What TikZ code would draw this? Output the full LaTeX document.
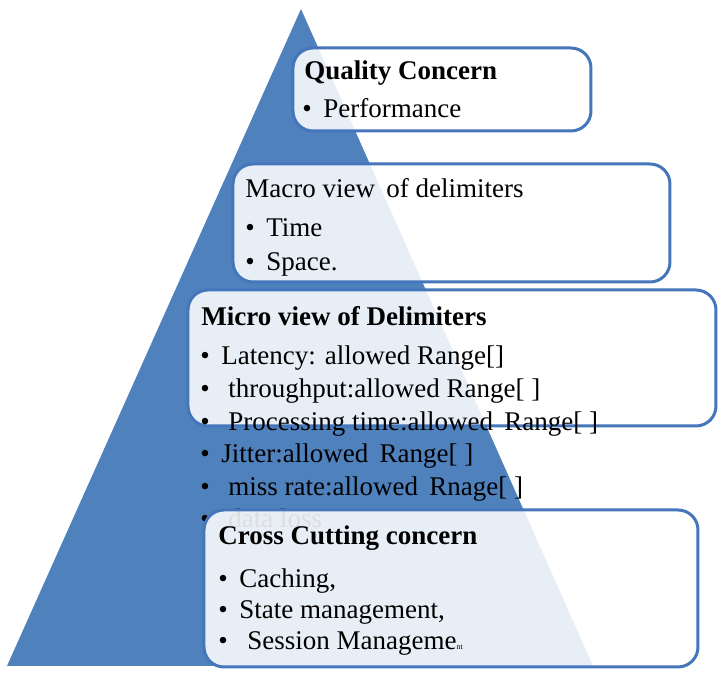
\documentclass[tikz,border=0pt]{standalone}
\usepackage{fontspec}
\setmainfont{Liberation Serif}
\usepackage{tikz}
\definecolor{pyramidblue}{HTML}{4F81BD}
\definecolor{boxblue}{HTML}{4575BA}
\tikzset{
	layer/.style={draw=boxblue, line width=1.5pt, rounded corners=10pt, fill=white, fill opacity=0.87},
	line/.style={anchor=base west, inner sep=0pt, font=\fontsize{13.5}{15}\selectfont},
	head/.style={line, font=\fontsize{13.5}{15}\selectfont\bfseries},
}
\newcommand{\bul}[1]{\makebox[#1][l]{\textbullet}}

\begin{document}
\begin{tikzpicture}[x=0.5pt, y=-0.5pt]
			\useasboundingbox (0,0) rectangle (720,673);
			\fill[pyramidblue] (301,9) coordinate (apex) -- (593,666) coordinate (baseR) -- (7,666) coordinate (baseL) -- cycle;
			% quality concern
			\draw[layer] (293,48) rectangle (591,131);
			\node[head] (quality) at (304,80) {Quality Concern};
			\node[line] (perf) at (302,118) {\bul{10.5pt}Performance};
			% macro view
			\draw[layer] (233,164) rectangle (670,282);
			\node[line] (macro) at (245,198) {Macro view\,\ of delimiters};
			\node[line] (time) at (245,237) {\bul{10.5pt}Time};
			\node[line] (space) at (245,271) {\bul{10.5pt}Space.};
			% micro view, list runs past the box
			\draw[layer] (188,290) rectangle (716,426);
			\node[head] (micro) at (201,326) {Micro view of Delimiters};
			\node[line] (latency) at (200,365) {\bul{10.5pt}Latency: allowed Range[]};
			\node[line] (through) at (200,398) {\bul{14pt}throughput:allowed Range[ ]};
			\node[line] (process) at (200,431) {\bul{14pt}Processing time:allowed\,\ Range[ ]};
			\node[line] (jitter) at (200,463) {\bul{10.5pt}Jitter:allowed\,\ Range[ ]};
			\node[line] (miss) at (200,496) {\bul{14pt}miss rate:allowed\,\ Rnage[ ]};
			\node[line] (loss) at (200,528) {\bul{14pt}data loss};
			% cross cutting concern
			\draw[layer] (204,510) rectangle (698,667);
			\node[head] (cross) at (218,545) {Cross Cutting concern};
			\node[line] (caching) at (218,588) {\bul{10.5pt}Caching,};
			\node[line] (state) at (218,619) {\bul{10.5pt}State management,};
			\node[line] (session) at (218,650) {\bul{14.5pt}Session Manageme{\fontsize{4}{4}\selectfont nt}};
		\end{tikzpicture}
\end{document}
